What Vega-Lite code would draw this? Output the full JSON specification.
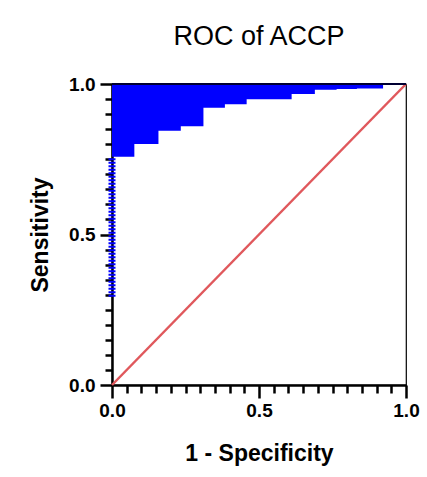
{
  "$schema": "https://vega.github.io/schema/vega-lite/v6.json",
  "width": 294,
  "height": 301,
  "autosize": {"type": "none"},
  "padding": {"left": 112, "top": 84, "right": 21, "bottom": 92},
  "background": "white",
  "title": {
    "text": "ROC of ACCP",
    "font": "Liberation Sans",
    "fontSize": 27,
    "fontWeight": "normal",
    "color": "black",
    "anchor": "middle",
    "baseline": "alphabetic",
    "offset": 3
  },
  "config": {
    "view": {"stroke": "black", "strokeWidth": 1.2},
    "axis": {
      "grid": false,
      "domainColor": "black",
      "domainWidth": 2.5,
      "tickColor": "black",
      "tickWidth": 2.5,
      "labelFont": "Liberation Sans",
      "labelFontSize": 19,
      "labelFontWeight": "bold",
      "labelColor": "black",
      "labelFlush": false,
      "labelOverlap": false,
      "titleFont": "Liberation Sans",
      "titleFontSize": 23,
      "titleFontWeight": "bold",
      "titleColor": "black"
    }
  },
  "datasets": {
    "roc": [
      {"fpr": 0, "tpr": 0.758, "top": 1},
      {"fpr": 0.076, "tpr": 0.801, "top": 1},
      {"fpr": 0.158, "tpr": 0.845, "top": 1},
      {"fpr": 0.234, "tpr": 0.86, "top": 1},
      {"fpr": 0.311, "tpr": 0.921, "top": 1},
      {"fpr": 0.384, "tpr": 0.933, "top": 1},
      {"fpr": 0.458, "tpr": 0.949, "top": 1},
      {"fpr": 0.611, "tpr": 0.967, "top": 1},
      {"fpr": 0.69, "tpr": 0.981, "top": 1},
      {"fpr": 0.764, "tpr": 0.983, "top": 1},
      {"fpr": 0.833, "tpr": 0.985, "top": 1},
      {"fpr": 0.922, "tpr": 1.0, "top": 1},
      {"fpr": 1.0, "tpr": 1.0, "top": 1}
    ],
    "band": [{"fpr": 0, "tpr": 0.293, "top": 0.758}],
    "diag": [{"fpr": 0, "tpr": 0}, {"fpr": 1, "tpr": 1}],
    "topline": [{"fpr": 0, "tpr": 1}, {"fpr": 1, "tpr": 1}]
  },
  "encoding": {
    "x": {
      "field": "fpr",
      "type": "quantitative",
      "scale": {"domain": [0, 1], "nice": false},
      "axis": {
        "title": "1 - Specificity",
        "values": [0, 0.05, 0.1, 0.15, 0.2, 0.25, 0.3, 0.35, 0.4, 0.45, 0.5, 0.55, 0.6, 0.65, 0.7, 0.75, 0.8, 0.85, 0.9, 0.95, 1],
        "labelExpr": "abs(datum.value*2-round(datum.value*2))<0.001 ? format(datum.value,'.1f') : ''",
        "tickSize": {"condition": {"test": "abs(datum.value*2-round(datum.value*2))<0.001", "value": 13}, "value": 8},
        "labelPadding": 3,
        "titlePadding": 22
      }
    },
    "y": {
      "field": "tpr",
      "type": "quantitative",
      "scale": {"domain": [0, 1], "nice": false},
      "axis": {
        "title": "Sensitivity",
        "values": [0, 0.05, 0.1, 0.15, 0.2, 0.25, 0.3, 0.35, 0.4, 0.45, 0.5, 0.55, 0.6, 0.65, 0.7, 0.75, 0.8, 0.85, 0.9, 0.95, 1],
        "labelExpr": "abs(datum.value*2-round(datum.value*2))<0.001 ? format(datum.value,'.1f') : ''",
        "tickSize": {"condition": {"test": "abs(datum.value*2-round(datum.value*2))<0.001", "value": 12}, "value": 7},
        "labelPadding": 5,
        "titlePadding": 16
      }
    }
  },
  "layer": [
    {
      "data": {"name": "roc"},
      "mark": {"type": "area", "interpolate": "step-after", "color": "#0000ff", "opacity": 1},
      "encoding": {"y2": {"field": "top"}}
    },
    {
      "data": {"name": "band"},
      "mark": {"type": "rule", "color": "#0000ff", "strokeWidth": 7, "strokeDash": [2, 1.5]},
      "encoding": {"y2": {"field": "top"}}
    },
    {
      "data": {"name": "diag"},
      "mark": {"type": "line", "color": "#e0585c", "strokeWidth": 2.5},
      "encoding": {}
    },
    {
      "data": {"name": "topline"},
      "mark": {"type": "line", "color": "#000033", "strokeWidth": 2},
      "encoding": {}
    }
  ]
}
